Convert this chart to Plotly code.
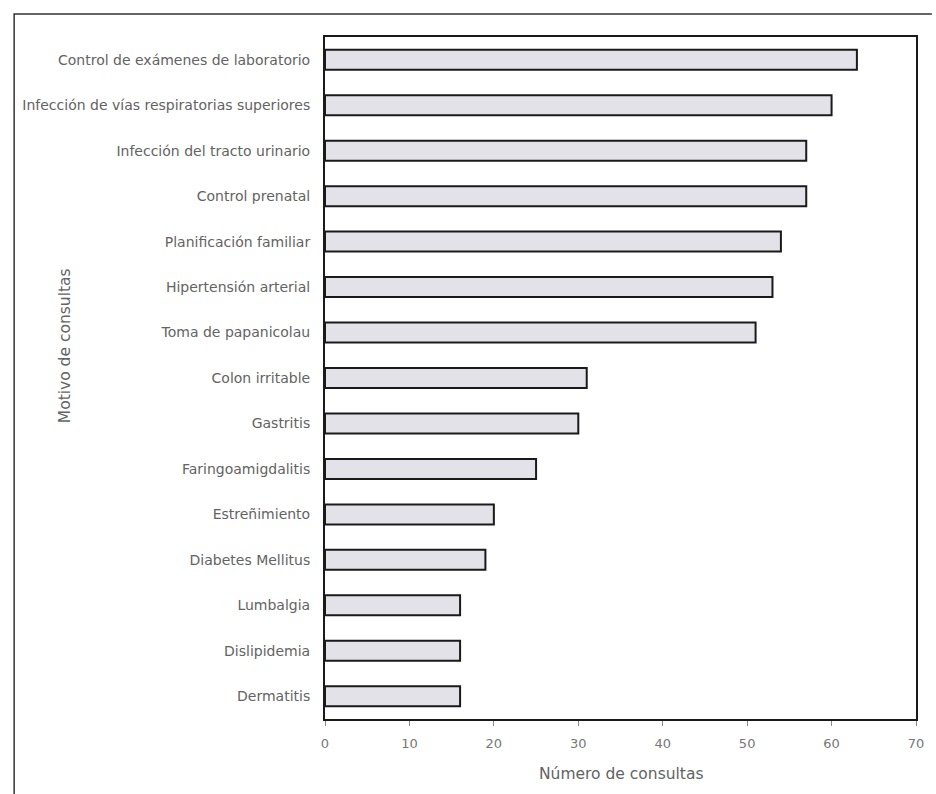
import plotly.graph_objects as go

categories = [
    "Control de exámenes de laboratorio",
    "Infección de vías respiratorias superiores",
    "Infección del tracto urinario",
    "Control prenatal",
    "Planificación familiar",
    "Hipertensión arterial",
    "Toma de papanicolau",
    "Colon irritable",
    "Gastritis",
    "Faringoamigdalitis",
    "Estreñimiento",
    "Diabetes Mellitus",
    "Lumbalgia",
    "Dislipidemia",
    "Dermatitis",
]
values = [63, 60, 57, 57, 54, 53, 51, 31, 30, 25, 20, 19, 16, 16, 16]
x_ticks = [0, 10, 20, 30, 40, 50, 60, 70]

FONT = "DejaVu Sans, Verdana, sans-serif"
TXT = "#636363"

fig = go.Figure(
    go.Bar(
        x=values,
        y=categories,
        orientation="h",
        width=0.44,
        marker=dict(color="#e2e2e8", line=dict(color="#1a1a1a", width=2)),
    )
)

fig.update_layout(
    width=936,
    height=794,
    margin=dict(l=325, r=16, t=37, b=75),
    paper_bgcolor="white",
    plot_bgcolor="white",
    showlegend=False,
    font=dict(family=FONT, color=TXT, size=13),
    xaxis=dict(
        range=[0, 70],
        tickvals=x_ticks,
        ticks="outside",
        ticklen=5,
        tickcolor="#888888",
        showgrid=False,
        zeroline=False,
        showline=True,
        linecolor="#1a1a1a",
        linewidth=2,
        mirror=True,
        tickfont=dict(size=13, color="#777777"),
        ticklabelstandoff=6,
    ),
    yaxis=dict(
        categoryorder="array",
        categoryarray=categories[::-1],
        range=[-0.5, len(categories) - 0.5],
        showgrid=False,
        zeroline=False,
        showline=True,
        linecolor="#1a1a1a",
        linewidth=2,
        mirror=True,
        ticks="",
        tickfont=dict(size=14, color=TXT),
        ticklabelstandoff=10,
    ),
    annotations=[
        dict(
            text="Número de consultas",
            xref="paper", yref="paper",
            x=0.5, y=-0.08,
            xanchor="center", yanchor="middle",
            showarrow=False,
            font=dict(size=15.5, color=TXT),
        ),
        dict(
            text="Motivo de consultas",
            xref="paper", yref="paper",
            x=-0.44, y=0.548,
            xanchor="center", yanchor="middle",
            textangle=-90,
            showarrow=False,
            font=dict(size=15.5, color=TXT),
        ),
    ],
    shapes=[
        dict(
            type="path",
            xref="paper", yref="paper",
            path="M -0.526 -0.12 L -0.526 1.0337 L 1.0269 1.0337",
            line=dict(color="#333333", width=1.5),
        )
    ],
)

fig.write_html(
    "out.html",
    config={"displayModeBar": False},
    post_script="document.body.style.margin='0';document.body.style.padding='0';",
)
